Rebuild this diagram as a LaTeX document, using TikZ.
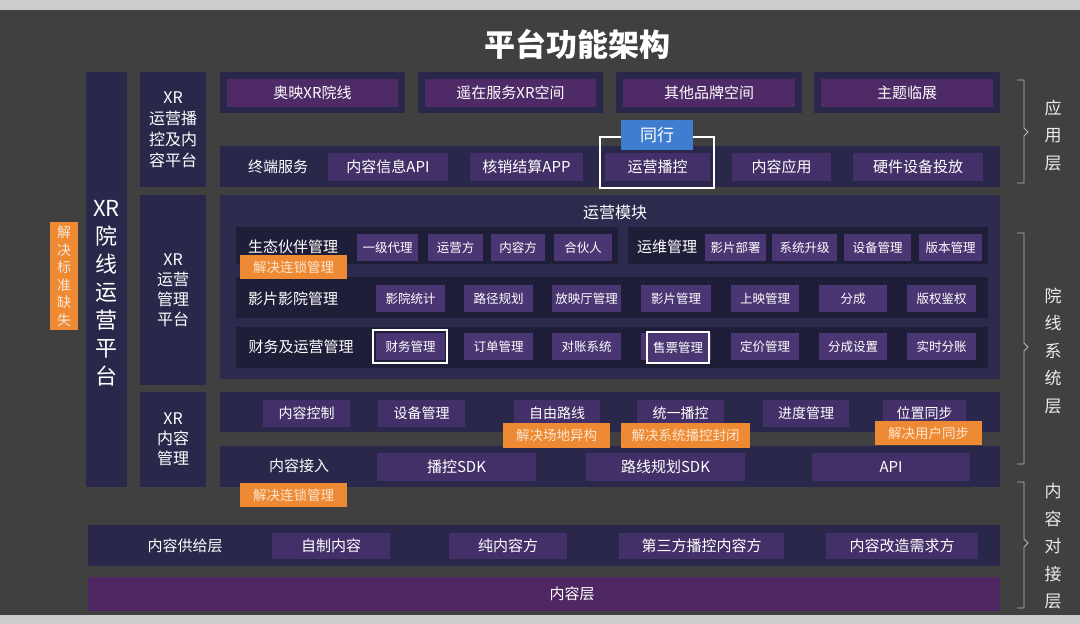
\documentclass[tikz,border=0pt]{standalone}
\usepackage{fontspec}
\setmainfont{Noto Sans CJK SC}
\definecolor{bgc}{HTML}{404040}
\definecolor{stripc}{HTML}{CDCDCD}
\definecolor{navyc}{HTML}{29284A}
\definecolor{deepc}{HTML}{1F1E38}
\definecolor{modc}{HTML}{2C2B4E}
\definecolor{magc}{HTML}{4E2A66}
\definecolor{itemc}{HTML}{433068}
\definecolor{smallc}{HTML}{4A3673}
\definecolor{layc}{HTML}{4F2763}
\definecolor{orc}{HTML}{EE8A33}
\definecolor{bluec}{HTML}{3E7DD0}
\definecolor{brc}{HTML}{B5B5B5}
\definecolor{ortxt}{HTML}{FCE6D2}
\newcommand{\myfs}[2]{\fontsize{#1}{#2}\selectfont}
\newcommand{\mybox}[7]{\node[#6, anchor=north west, minimum width={#4pt-#2pt}, minimum height={#5pt-#3pt}] (#1) at (#2,#3) {#7};}
\tikzset{
  box/.style={inner sep=0pt, outer sep=0pt, text=white, align=center, font=\myfs{15}{18}},
  outer/.style={box, fill=navyc},
  deep/.style={box, fill=deepc},
  modbox/.style={box, fill=modc},
  mag/.style={box, fill=magc},
  item/.style={box, fill=itemc},
  small/.style={box, fill=smallc, font=\myfs{12.5}{15}},
  mid/.style={box, fill=itemc, font=\myfs{14}{17}},
  lay/.style={box, fill=layc},
  tag/.style={box, fill=orc, text=ortxt, font=\myfs{13.5}{16}},
  lbl/.style={inner sep=0pt, text=white, align=center, font=\myfs{15}{18}},
  frame/.style={draw=white, line width=2pt},
  brack/.style={draw=brc, line width=0.9pt},
  side/.style={inner sep=0pt, text=white!92!black, align=center, font=\myfs{17}{27.5}}
}
\begin{document}
\begin{tikzpicture}[x=1pt,y=-1pt]
\useasboundingbox (0,0) rectangle (1080,624);
\fill[bgc] (0,0) rectangle (1080,624);
\fill[stripc] (0,0) rectangle (1080,10);
\fill[stripc] (0,615) rectangle (1080,624);

\node[lbl, font=\myfs{31}{31}\bfseries] (title) at (577,44) {平台功能架构};

% left columns
\mybox{std}{50}{222}{78}{330}{tag, font=\myfs{14}{17.5}}{解\\决\\标\\准\\缺\\失}
\mybox{plat}{86}{72}{127}{487}{outer}{}
\node[lbl, font=\myfs{22}{28}] (platl) at (106.5,293) {XR\\院\\线\\运\\营\\平\\台};
\mybox{bk}{140}{72}{206}{187}{outer, font=\myfs{16}{21}}{XR\\运营播\\控及内\\容平台}
\mybox{gl}{140}{195}{206}{385}{outer, font=\myfs{16}{20}}{XR\\运营\\管理\\平台}
\mybox{nr}{140}{392}{206}{487}{outer, font=\myfs{16}{20}}{XR\\内容\\管理}

% application row 1
\mybox{a1o}{220}{72}{405}{113}{outer}{}
\mybox{a1}{227}{79}{398}{107}{mag}{奥映XR院线}
\mybox{a2o}{418}{72}{603}{113}{outer}{}
\mybox{a2}{425}{79}{596}{107}{mag}{遥在服务XR空间}
\mybox{a3o}{616}{72}{802}{113}{outer}{}
\mybox{a3}{623}{79}{795}{107}{mag}{其他品牌空间}
\mybox{a4o}{814}{72}{1000}{113}{outer}{}
\mybox{a4}{821}{79}{993}{107}{mag}{主题临展}

% terminal service row
\mybox{ts}{220}{146}{1000}{187}{outer}{}
\node[lbl] (tsl) at (278,167) {终端服务};
\mybox{t1}{328}{153}{448}{181}{item}{内容信息API}
\mybox{t2}{470}{153}{583}{181}{item}{核销结算APP}
\mybox{t3}{605}{153}{710}{181}{item}{运营播控}
\mybox{t4}{732}{153}{831}{181}{item}{内容应用}
\mybox{t5}{853}{153}{983}{181}{item}{硬件设备投放}
\draw[frame] (600,137) rectangle (714,188);
\mybox{tx}{621}{120}{693}{150}{box, fill=bluec, font=\myfs{17}{20}}{同行}

% operation module
\mybox{mod}{220}{195}{1000}{379}{modbox}{}
\node[lbl, font=\myfs{16}{19}] (modl) at (615,212) {运营模块};
\mybox{ra}{236}{227}{618}{264}{deep}{}
\mybox{rb}{628}{227}{988}{264}{deep}{}
\node[lbl] (ral) at (293,247) {生态伙伴管理};
\node[lbl] (rbl) at (667,247) {运维管理};
\mybox{ra1}{357}{234}{418}{261}{small}{一级代理}
\mybox{ra2}{428}{234}{483}{261}{small}{运营方}
\mybox{ra3}{491}{234}{545}{261}{small}{内容方}
\mybox{ra4}{554}{234}{612}{261}{small}{合伙人}
\mybox{rb1}{705}{234}{766}{261}{small}{影片部署}
\mybox{rb2}{772}{234}{837}{261}{small}{系统升级}
\mybox{rb3}{844}{234}{911}{261}{small}{设备管理}
\mybox{rb4}{919}{234}{982}{261}{small}{版本管理}

\mybox{rc}{236}{277}{988}{318}{deep}{}
\node[lbl] (rcl) at (293,299) {影片影院管理};
\mybox{rc1}{376}{285}{445}{312}{small}{影院统计}
\mybox{rc2}{464}{285}{533}{312}{small}{路径规划}
\mybox{rc3}{552}{285}{621}{312}{small}{放映厅管理}
\mybox{rc4}{641}{285}{711}{312}{small}{影片管理}
\mybox{rc5}{731}{285}{799}{312}{small}{上映管理}
\mybox{rc6}{819}{285}{887}{312}{small}{分成}
\mybox{rc7}{907}{285}{976}{312}{small}{版权鉴权}

\mybox{rd}{236}{327}{988}{368}{deep}{}
\node[lbl] (rdl) at (301,347) {财务及运营管理};
\mybox{rd1}{376}{333}{445}{360}{small}{财务管理}
\mybox{rd2}{464}{333}{533}{360}{small}{订单管理}
\mybox{rd3}{552}{333}{621}{360}{small}{对账系统}
\mybox{rd4}{641}{333}{711}{360}{small}{}
\mybox{rd5}{731}{333}{799}{360}{small}{定价管理}
\mybox{rd6}{819}{333}{887}{360}{small}{分成设置}
\mybox{rd7}{907}{333}{976}{360}{small}{实时分账}
\draw[frame] (373,330) rectangle (447,363);
\draw[frame, fill=smallc] (647,332) rectangle (709,363);
\node[lbl, font=\myfs{12.5}{15}] (rd4t) at (678,347.5) {售票管理};

% content management
\mybox{cd}{220}{392}{1000}{432}{outer}{}
\mybox{cd1}{263}{400}{350}{427}{mid}{内容控制}
\mybox{cd2}{378}{400}{465}{427}{mid}{设备管理}
\mybox{cd3}{514}{400}{600}{427}{mid}{自由路线}
\mybox{cd4}{637}{400}{724}{427}{mid}{统一播控}
\mybox{cd5}{763}{400}{849}{427}{mid}{进度管理}
\mybox{cd6}{883}{400}{966}{427}{mid}{位置同步}
\mybox{ce}{220}{446}{1000}{487}{outer}{}
\node[lbl] (cel) at (299,466) {内容接入};
\mybox{ce1}{377}{453}{536}{481}{item}{播控SDK}
\mybox{ce2}{586}{453}{745}{481}{item}{路线规划SDK}
\mybox{ce3}{812}{453}{970}{481}{item}{API}

% content supply & layer
\mybox{sup}{88}{525}{1000}{566}{outer}{}
\node[lbl] (supl) at (185,546) {内容供给层};
\mybox{s1}{272}{533}{390}{559}{item}{自制内容}
\mybox{s2}{449}{533}{567}{559}{item}{纯内容方}
\mybox{s3}{619}{533}{784}{559}{item}{第三方播控内容方}
\mybox{s4}{826}{533}{978}{559}{item}{内容改造需求方}
\mybox{layer}{88}{577}{1000}{611}{lay}{}
\node[lbl] (layl) at (572,594) {内容层};

% orange tags
\mybox{o1}{240}{255}{347}{279}{tag}{解决连锁管理}
\mybox{o2}{503}{423}{610}{448}{tag}{解决场地异构}
\mybox{o3}{621}{423}{750}{448}{tag}{解决系统播控封闭}
\mybox{o4}{875}{421}{982}{445}{tag}{解决用户同步}
\mybox{o5}{240}{483}{347}{507}{tag}{解决连锁管理}

% right brackets
\draw[brack] (1017,80) -- (1024,80) -- (1024,128) -- (1028,132) -- (1024,136) -- (1024,183) -- (1017,183);
\node[side] (l1) at (1053,135.5) {应\\用\\层};
\draw[brack] (1017,233) -- (1024,233) -- (1024,343) -- (1028,347) -- (1024,351) -- (1024,464) -- (1017,464);
\node[side] (l2) at (1053,351) {院\\线\\系\\统\\层};
\draw[brack] (1017,482) -- (1024,482) -- (1024,539) -- (1028,543) -- (1024,547) -- (1024,608) -- (1017,608);
\node[side] (l3) at (1053,546.5) {内\\容\\对\\接\\层};
\end{tikzpicture}
\end{document}
